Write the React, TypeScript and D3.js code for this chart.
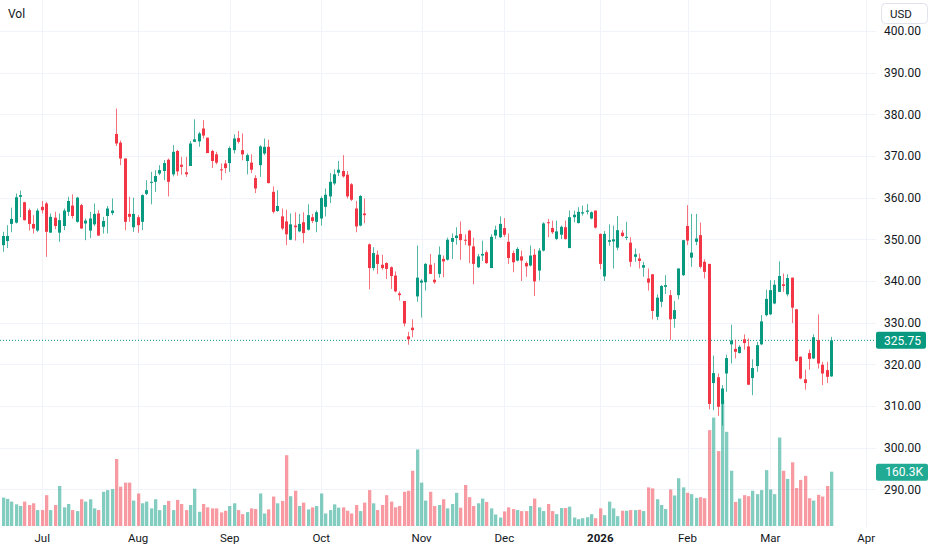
import React from "react";
import * as d3 from "d3";

// OHLC per trading day (Jun 17 2025 .. Mar 20 2026)
const opens = [
  348.6,349.6,353.7,354.0,360.2,358.9,357.0,353.7,352.1,357.8,
  358.6,351.6,355.2,351.6,353.2,356.6,358.1,354.2,358.2,353.8,
  352.1,353.6,356.2,353.0,355.6,356.3,375.3,373.2,369.4,356.1,
  352.9,355.3,354.2,360.9,363.6,363.8,365.8,366.4,369.1,365.6,
  371.2,367.9,366.1,367.6,373.4,373.5,376.6,374.4,371.2,370.4,
  366.8,368.2,368.3,371.4,374.3,371.4,368.8,368.4,364.7,367.8,
  370.6,372.2,361.4,356.8,355.5,354.3,349.9,353.3,351.9,354.1,
  352.3,355.3,354.2,355.0,357.8,360.3,363.4,366.0,366.4,365.5,
  363.2,357.4,353.3,356.2,348.8,343.1,346.3,343.9,344.3,343.3,
  341.3,337.0,335.2,326.7,328.8,336.3,339.6,339.7,343.9,340.3,
  341.7,345.3,345.1,349.4,350.3,351.3,349.9,352.1,348.3,343.3,
  346.1,346.9,343.1,350.9,350.5,352.7,349.4,346.7,344.9,345.9,
  344.3,343.7,346.3,342.5,347.3,354.1,352.7,350.1,351.1,352.9,
  347.9,355.3,353.9,356.2,356.6,355.0,356.9,351.3,341.1,349.4,
  349.5,348.0,351.6,350.4,349.2,345.8,345.4,343.2,340.6,341.6,
  331.4,335.0,338.6,336.6,330.9,336.6,341.4,353.2,345.6,349.4,
  351.0,344.6,344.1,315.5,316.9,310.5,317.8,324.8,323.7,322.7,
  326.0,324.3,316.7,319.6,324.8,331.8,332.0,334.6,337.4,339.2,
  336.8,340.8,333.2,321.8,316.4,322.7,321.4,325.8,319.9,318.6,
  317.1,
];
const highs = [
  351.8,353.4,357.6,361.0,361.7,359.0,357.4,355.8,357.4,359.2,
  359.0,356.2,356.6,356.2,357.4,360.2,360.8,360.2,358.5,355.0,
  356.6,358.6,357.0,355.4,358.0,359.8,381.4,373.7,369.4,360.2,
  360.0,355.8,360.8,364.2,366.2,366.6,367.8,369.0,369.4,372.6,
  371.5,369.8,369.8,373.6,378.8,375.8,378.6,374.4,371.5,371.0,
  368.2,369.0,372.3,375.2,376.0,375.4,370.6,370.4,365.4,372.6,
  374.2,373.9,362.7,361.8,357.4,357.1,356.2,356.5,356.1,356.5,
  358.4,356.1,356.9,360.3,362.2,365.9,366.8,368.8,370.2,366.4,
  363.5,359.2,360.6,359.8,349.0,348.1,347.3,346.3,344.5,343.5,
  342.3,337.5,335.2,327.8,330.8,348.5,340.5,344.3,346.5,344.3,
  348.3,346.1,350.4,351.4,352.9,354.3,351.2,352.3,350.4,346.5,
  349.7,347.3,351.2,353.3,355.5,355.1,351.4,347.3,348.1,347.3,
  344.7,348.5,347.7,347.9,354.1,354.9,354.5,354.5,353.3,354.5,
  356.9,356.9,357.7,358.1,358.5,356.7,356.9,351.4,352.0,353.6,
  353.3,355.6,352.2,354.2,350.5,347.8,346.6,344.6,343.0,341.7,
  336.8,339.0,341.4,337.8,335.2,343.0,349.9,358.2,356.1,356.1,
  354.0,345.2,344.1,322.1,317.8,315.0,322.3,329.5,325.9,324.6,
  327.2,326.2,321.2,325.4,331.8,337.9,340.2,340.2,344.7,341.8,
  341.6,340.8,333.3,321.9,318.7,323.5,327.2,332.0,320.6,320.6,
  326.6,
];
const lows = [
  347.0,347.9,351.7,353.8,355.3,354.5,352.1,351.4,351.8,356.2,
  345.8,351.6,352.4,349.4,352.2,355.6,355.0,354.0,352.5,349.8,
  350.3,353.2,350.8,351.4,351.4,355.8,372.4,367.8,352.2,354.2,
  351.8,351.6,352.2,360.6,358.4,361.4,365.4,364.2,360.3,365.1,
  365.3,365.5,365.0,367.6,373.4,372.2,374.2,370.7,367.1,368.0,
  364.2,365.9,366.2,370.6,373.0,369.0,365.6,365.9,361.1,365.0,
  370.2,363.4,356.2,356.6,352.2,348.6,349.8,349.7,351.7,349.1,
  352.1,353.9,351.7,353.3,355.5,358.7,363.0,365.2,364.8,359.8,
  359.2,351.7,353.1,353.9,338.0,342.5,341.7,342.7,340.5,338.1,
  337.3,335.3,329.1,324.7,326.5,335.0,331.2,337.7,341.7,339.3,
  340.8,340.9,344.9,345.3,348.7,345.1,348.6,344.3,339.2,343.1,
  344.8,344.1,343.1,350.1,350.3,350.6,344.1,342.1,344.7,340.0,
  341.0,343.5,336.4,340.1,347.1,350.5,351.3,349.8,350.1,349.9,
  347.9,354.1,353.8,355.7,356.0,354.8,352.6,342.8,340.0,348.5,
  343.0,347.4,350.5,349.8,343.4,344.6,343.0,341.0,337.7,330.8,
  330.6,333.7,336.9,325.8,328.8,335.6,341.2,348.6,343.4,348.6,
  343.0,340.6,309.2,309.0,307.6,305.3,313.4,320.2,321.4,322.6,
  323.5,315.0,312.6,318.2,324.6,331.5,331.8,334.4,337.4,337.4,
  336.3,329.9,320.6,316.4,313.9,318.7,321.3,319.0,315.0,315.5,
  317.0,
];
const closes = [
  350.8,350.8,354.9,360.1,360.6,354.6,353.7,352.6,356.9,357.0,
  351.8,355.4,353.2,354.6,356.9,359.2,355.6,360.0,352.6,354.5,
  355.0,356.1,350.9,354.4,357.4,356.9,373.0,369.4,354.2,355.4,
  356.1,353.4,360.6,361.8,363.8,365.2,366.6,368.3,363.8,371.0,
  366.3,367.4,365.6,373.0,374.0,375.4,374.9,370.7,368.8,368.4,
  366.6,367.1,371.9,374.2,373.4,370.4,370.2,366.7,362.2,372.3,
  372.2,363.5,356.6,358.0,352.6,351.2,353.6,352.9,353.7,351.5,
  355.8,354.4,356.5,359.9,360.7,363.8,365.6,366.7,365.1,360.3,
  359.5,353.1,360.4,355.8,343.1,346.7,344.1,343.1,342.9,341.2,
  337.5,336.6,329.8,326.0,328.2,340.8,340.1,344.1,341.7,339.7,
  346.3,344.7,349.9,350.3,350.9,349.8,349.8,348.5,344.1,345.9,
  346.5,344.3,350.6,352.3,353.7,351.1,345.5,344.5,347.7,344.9,
  343.5,346.1,339.9,347.3,353.8,353.9,351.7,351.9,353.0,350.1,
  355.3,355.9,356.6,356.5,356.9,356.5,352.8,344.1,351.3,349.8,
  350.0,352.2,350.8,350.6,344.6,346.4,344.8,343.8,339.6,332.8,
  336.0,338.8,339.0,330.8,333.0,343.0,349.8,349.7,346.8,350.2,
  343.4,342.2,310.5,317.9,309.8,314.2,321.5,325.7,323.0,324.2,
  325.1,315.1,319.1,324.6,330.3,335.7,337.8,339.1,341.2,338.8,
  340.7,333.6,320.8,316.6,315.5,321.3,326.5,320.2,317.8,317.0,
  325.75,
];
// volume, thousands
const volumes = [
  84,80,72,64,59,72,62,67,47,47,
  91,47,62,118,55,65,47,44,79,72,
  79,52,47,101,106,109,198,116,128,128,
  75,96,67,72,52,79,47,62,74,47,
  77,65,47,62,110,42,65,55,52,52,
  40,45,59,67,47,35,41,52,50,96,
  37,49,87,67,74,209,88,104,59,69,
  49,55,59,96,37,47,64,54,55,45,
  37,62,44,69,106,67,47,62,91,72,
  55,59,101,104,163,226,128,75,101,59,
  62,79,52,65,98,54,121,85,59,67,
  81,71,52,34,25,43,55,50,47,44,
  44,59,81,55,44,65,44,35,53,53,
  57,25,20,23,26,35,23,52,32,72,
  52,29,45,45,47,47,48,44,114,111,
  79,62,50,108,90,141,114,98,94,83,
  85,82,283,320,221,372,278,163,71,81,
  91,88,104,94,106,165,108,94,261,163,
  139,188,112,136,148,82,75,92,87,118,
  160.3,
];

const monthLabels = ["Jul", "Aug", "Sep", "Oct", "Nov", "Dec", "2026", "Feb", "Mar", "Apr"];
const monthBarIndex = [9, 31, 52, 73, 96, 115, 137, 157, 176, 198];
const priceTicks = [290, 300, 310, 320, 330, 340, 350, 360, 370, 380, 390, 400];
const lastPrice = 325.75;
const lastVolumeLabel = "160.3K";

const UP = "#089981";
const DOWN = "#F23645";
const UP_VOL = "rgba(8,153,129,0.5)";
const DOWN_VOL = "rgba(242,54,69,0.5)";
const TEXT = "#131722";
const GRID = "#f0f3fa";
const FONT = "Roboto, 'Noto Sans', sans-serif";

export default function App() {
  const W = 932;
  const H = 550;
  const plotRight = 876;
  const x = d3.scaleLinear().domain([0, 198]).range([3, 3 + 198 * 4.36]);
  const y = d3.scaleLinear().domain([290, 400]).range([489.3, 31]);
  const vy = d3.scaleLinear().domain([0, 160.3]).range([526, 471.7]);

  const lastY = y(lastPrice);
  const lastVolY = vy(volumes[volumes.length - 1]);

  return (
    <div style={{ position: "absolute", left: 0, top: 0, width: W, height: H, background: "#fff" }}>
      <svg width={W} height={H} style={{ display: "block", fontFamily: FONT }}>
        <rect x={0} y={0} width={W} height={H} fill="#ffffff" />
        {/* grid */}
        {priceTicks.map((p) => (
          <line key={"h" + p} x1={0} x2={plotRight} y1={Math.round(y(p)) + 0.5} y2={Math.round(y(p)) + 0.5} stroke={GRID} strokeWidth={1} />
        ))}
        {monthBarIndex.map((i, k) => (
          <line key={"v" + k} x1={Math.round(x(i)) + 0.5} x2={Math.round(x(i)) + 0.5} y1={0} y2={527} stroke={GRID} strokeWidth={1} />
        ))}
        {/* volume */}
        {volumes.map((v, i) => {
          const up = closes[i] >= opens[i];
          const cx = x(i);
          return (
            <rect key={"vol" + i} x={Math.round(cx - 1.5)} y={vy(v)} width={3.3} height={526 - vy(v)} fill={up ? UP_VOL : DOWN_VOL} />
          );
        })}
        {/* last price line */}
        <line x1={0} x2={plotRight} y1={lastY} y2={lastY} stroke={UP} strokeWidth={1} strokeDasharray="1,2" />
        {/* candles */}
        {opens.map((o, i) => {
          const c = closes[i];
          const up = c >= o;
          const col = up ? UP : DOWN;
          const bx = Math.round(x(i) - 1.5);
          const hi = Math.max(highs[i], o, c);
          const lo = Math.min(lows[i], o, c);
          const top = y(Math.max(o, c));
          const bh = Math.max(1, y(Math.min(o, c)) - top);
          return (
            <g key={"c" + i}>
              <rect x={bx + 1} y={y(hi)} width={1} height={y(lo) - y(hi)} fill={col} opacity={0.7} />
              <rect x={bx} y={top} width={3} height={bh} fill={col} />
            </g>
          );
        })}
        {/* price axis labels */}
        {priceTicks.map((p) => (
          <text key={"t" + p} x={921} y={y(p)} dy="0.35em" textAnchor="end" fontSize={12} fill={TEXT}>
            {p.toFixed(2)}
          </text>
        ))}
        {/* USD box */}
        <rect x={881.5} y={3.5} width={46} height={20} rx={4} fill="#ffffff" stroke="#e0e3eb" />
        <text x={901} y={13.5} dy="0.35em" textAnchor="middle" fontSize={11.5} fill={TEXT}>USD</text>
        {/* last price label */}
        <rect x={876} y={lastY - 8.5} width={50} height={17} rx={2} fill={UP} />
        <text x={921} y={lastY} dy="0.35em" textAnchor="end" fontSize={12} fill="#ffffff">{lastPrice.toFixed(2)}</text>
        {/* last volume label */}
        <rect x={876} y={lastVolY - 8} width={52} height={17} rx={2} fill="#22ab94" />
        <text x={923} y={lastVolY + 0.5} dy="0.35em" textAnchor="end" fontSize={12} fill="#ffffff">{lastVolumeLabel}</text>
        {/* time axis */}
        {monthLabels.map((m, k) => (
          <text key={"m" + k} x={x(monthBarIndex[k])} y={538} dy="0.35em" textAnchor="middle" fontSize={11.5} fontWeight={m === "2026" ? 700 : 400} fill={TEXT}>
            {m}
          </text>
        ))}
        <text x={8} y={14} dy="0.35em" fontSize={12} fill={TEXT}>Vol</text>
      </svg>
    </div>
  );
}
